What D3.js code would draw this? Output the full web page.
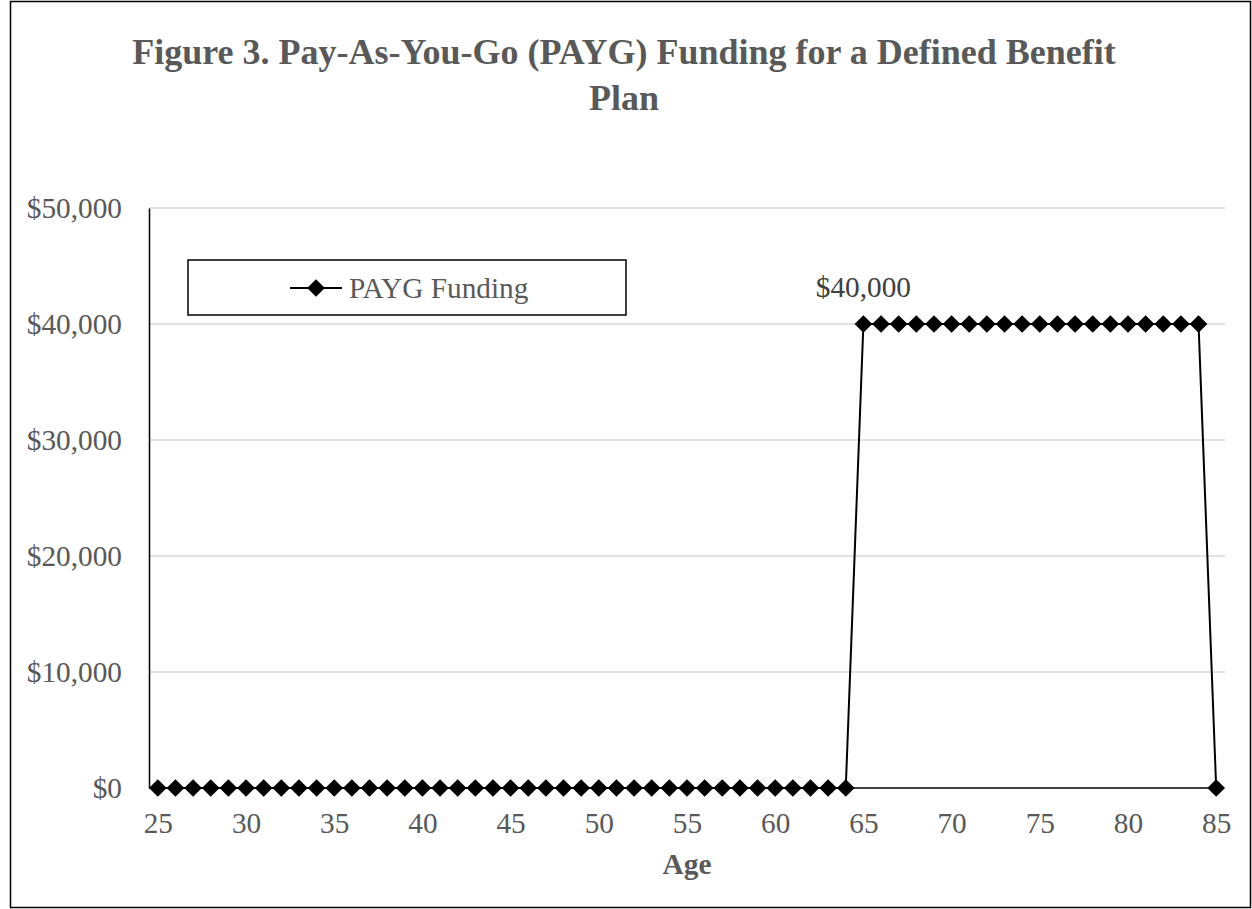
<!DOCTYPE html>
<html>
<head>
<meta charset="utf-8">
<script src="https://cdn.jsdelivr.net/npm/d3@7/dist/d3.min.js"></script>
<style>
  html, body { margin: 0; padding: 0; background: #fff; }
  svg { display: block; }
  text { font-family: "Liberation Serif", "Times New Roman", serif; }
</style>
</head>
<body>
<svg id="chart" width="1252" height="909"></svg>
<script>
// Age of the participant (category axis)
const ages = [25, 26, 27, 28, 29, 30, 31, 32, 33, 34, 35, 36, 37, 38, 39, 40,
  41, 42, 43, 44, 45, 46, 47, 48, 49, 50, 51, 52, 53, 54, 55, 56, 57, 58, 59,
  60, 61, 62, 63, 64, 65, 66, 67, 68, 69, 70, 71, 72, 73, 74, 75, 76, 77, 78,
  79, 80, 81, 82, 83, 84, 85];

// PAYG funding paid in each year of age
const paygFunding = [0, 0, 0, 0, 0, 0, 0, 0, 0, 0, 0, 0, 0, 0, 0, 0,
  0, 0, 0, 0, 0, 0, 0, 0, 0, 0, 0, 0, 0, 0, 0, 0, 0, 0, 0,
  0, 0, 0, 0, 0, 40000, 40000, 40000, 40000, 40000, 40000, 40000, 40000, 40000, 40000,
  40000, 40000, 40000, 40000, 40000, 40000, 40000, 40000, 40000, 40000, 0];

const xTickLabels = [25, 30, 35, 40, 45, 50, 55, 60, 65, 70, 75, 80, 85];
const yTickValues = [0, 10000, 20000, 30000, 40000, 50000];

// Labelled point
const labelAge = 65;

const titleLines = ["Figure 3. Pay-As-You-Go (PAYG) Funding for a Defined Benefit", "Plan"];
const xAxisTitle = "Age";
const seriesName = "PAYG Funding";

const svg = d3.select("#chart");
const W = 1252, H = 909;
const plot = { left: 149, right: 1225, top: 208, bottom: 788 };
const grey = "#595959";
const fs = "29.3px";

// Chart frame
svg.append("rect")
  .attr("x", 10.5).attr("y", 1.5)
  .attr("width", W - 12).attr("height", H - 3)
  .attr("fill", "#fff").attr("stroke", "#000").attr("stroke-width", 1.5);

// Title
const title = svg.append("text")
  .attr("x", 624).attr("y", 64)
  .attr("text-anchor", "middle")
  .attr("fill", grey)
  .style("font-size", "36px").style("font-weight", "bold");
titleLines.forEach((t, i) => {
  title.append("tspan").attr("x", 624).attr("dy", i === 0 ? 0 : 46).text(t);
});

const x = d3.scalePoint().domain(ages).range([plot.left, plot.right]).padding(0.5);
const y = d3.scaleLinear().domain([0, 50000]).range([plot.bottom, plot.top]);

// Horizontal gridlines
svg.append("g")
  .selectAll("line")
  .data(yTickValues.filter(v => v !== 0))
  .join("line")
  .attr("x1", plot.left).attr("x2", plot.right)
  .attr("y1", d => y(d)).attr("y2", d => y(d))
  .attr("stroke", "#d9d9d9").attr("stroke-width", 1.5);

// Y axis
const yAxis = svg.append("g")
  .attr("transform", `translate(${plot.left},0)`)
  .call(d3.axisLeft(y).tickValues(yTickValues).tickSize(0).tickPadding(27)
    .tickFormat(d => "$" + d3.format(",")(d)));
yAxis.select(".domain").attr("stroke", "#000").attr("stroke-width", 1.5);
yAxis.selectAll("text").attr("fill", grey).style("font-size", fs)
  .attr("dy", "0.34em");

// X axis
const xAxis = svg.append("g")
  .attr("transform", `translate(0,${plot.bottom})`)
  .call(d3.axisBottom(x).tickValues(xTickLabels).tickSize(0).tickPadding(24));
xAxis.select(".domain").attr("stroke", "#000").attr("stroke-width", 1.5)
  .attr("d", `M${plot.left},0H${x(ages[ages.length - 1])}`);
xAxis.selectAll("text").attr("fill", grey).style("font-size", fs);

svg.append("text")
  .attr("x", (plot.left + plot.right) / 2).attr("y", 874)
  .attr("text-anchor", "middle").attr("fill", grey)
  .style("font-size", fs).style("font-weight", "bold")
  .text(xAxisTitle);

// Series line
const line = d3.line().x((d, i) => x(ages[i])).y(d => y(d));
svg.append("path")
  .datum(paygFunding)
  .attr("d", line)
  .attr("fill", "none").attr("stroke", "#000").attr("stroke-width", 2);

// Diamond markers
const diamond = d3.symbol().type(d3.symbolDiamond2).size(200);
svg.append("g")
  .selectAll("path")
  .data(paygFunding)
  .join("path")
  .attr("transform", (d, i) => `translate(${x(ages[i])},${y(d)})`)
  .attr("d", diamond)
  .attr("fill", "#000");

// Data label
const li = ages.indexOf(labelAge);
svg.append("text")
  .attr("x", x(labelAge)).attr("y", y(paygFunding[li]) - 27)
  .attr("text-anchor", "middle").attr("fill", "#404040")
  .style("font-size", fs)
  .text("$" + d3.format(",")(paygFunding[li]));

// Legend
const legend = svg.append("g");
legend.append("rect")
  .attr("x", 188).attr("y", 260).attr("width", 438).attr("height", 55)
  .attr("fill", "#fff").attr("stroke", "#000").attr("stroke-width", 1.5);
legend.append("line")
  .attr("x1", 290).attr("x2", 342).attr("y1", 288).attr("y2", 288)
  .attr("stroke", "#000").attr("stroke-width", 2);
legend.append("path")
  .attr("transform", "translate(316,288)")
  .attr("d", diamond).attr("fill", "#000");
legend.append("text")
  .attr("x", 349).attr("y", 288).attr("dy", "0.34em")
  .attr("fill", grey).style("font-size", fs)
  .text(seriesName);
</script>
</body>
</html>
